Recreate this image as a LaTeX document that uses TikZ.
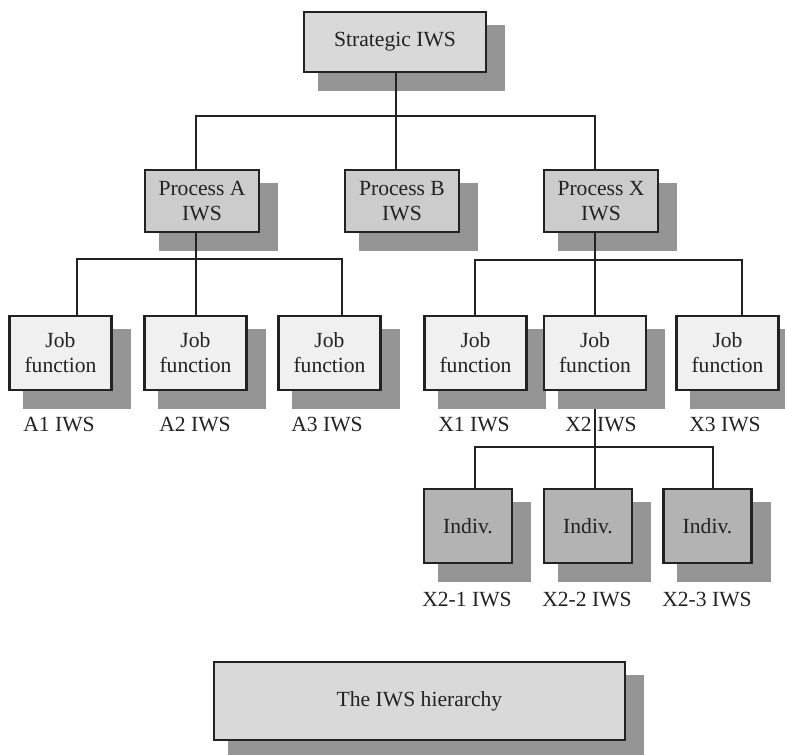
\documentclass[tikz,border=0pt]{standalone}
\usepackage{fontspec}
\setmainfont{Liberation Serif}
\pgfdeclarelayer{under}
\pgfdeclarelayer{shade}
\pgfdeclarelayer{wires}
\pgfsetlayers{under,shade,wires,main}
\definecolor{ink}{HTML}{222222}
\definecolor{shadowgray}{HTML}{959595}
\definecolor{fillstrat}{HTML}{D9D9D9}
\definecolor{fillproc}{HTML}{CCCCCC}
\definecolor{filljob}{HTML}{F0F0F0}
\definecolor{fillind}{HTML}{B3B3B3}
\begin{document}
\begin{tikzpicture}[x=1pt,y=-1pt,
  txt/.style={text=ink, font=\fontsize{21.6}{25}\selectfont},
  box/.style={txt, draw=ink, line width=2.2pt, align=center, inner sep=0pt},
  stratbox/.style={box, fill=fillstrat, minimum width=182pt, minimum height=60pt},
  procbox/.style={box, fill=fillproc, minimum width=114pt, minimum height=62pt},
  jobbox/.style={box, fill=filljob, minimum width=102pt, minimum height=74pt},
  indbox/.style={box, fill=fillind, minimum width=88pt, minimum height=74pt},
  lbl/.style={txt, inner sep=0pt},
  conn/.style={draw=ink, line width=1.6pt}]
\useasboundingbox (0,0) rectangle (785,755);

% boxes
\node[stratbox] (strat) at (395,42) {Strategic IWS};
\node[procbox] (pA) at (202,201) {Process A\\IWS};
\node[procbox] (pB) at (402,201) {Process B\\IWS};
\node[procbox] (pX) at (601,201) {Process X\\IWS};

\node[jobbox] (a1) at (60.5,353) {Job\\function};
\node[jobbox] (a2) at (195.5,353) {Job\\function};
\node[jobbox] (a3) at (329.5,353) {Job\\function};
\node[jobbox] (x1) at (475.5,353) {Job\\function};
\node[jobbox] (x2) at (595,353) {Job\\function};
\node[jobbox] (x3) at (727.5,353) {Job\\function};

\node[indbox] (i1) at (468,526) {Indiv.};
\node[indbox] (i2) at (588,526) {Indiv.};
\node[indbox] (i3) at (707.5,526) {Indiv.};

\node[box, fill=fillstrat, minimum width=411pt, minimum height=78pt] (title) at (419.5,701) {The IWS hierarchy};

% captions under the job and individual boxes
\node[lbl] (la1) at (59,425) {A1 IWS};
\node[lbl] (la2) at (195,425) {A2 IWS};
\node[lbl] (la3) at (327,425) {A3 IWS};
\node[lbl] (lx1) at (474,425) {X1 IWS};
\node[lbl] (lx2) at (601,425) {X2 IWS};
\node[lbl] (lx3) at (725,425) {X3 IWS};
\node[lbl] (li1) at (467,600) {X2-1 IWS};
\node[lbl] (li2) at (587,600) {X2-2 IWS};
\node[lbl] (li3) at (707,600) {X2-3 IWS};

% drop shadows
\begin{pgfonlayer}{shade}
\foreach \n in {strat,pA,pB,pX,a1,a2,a3,x1,x2,x3,i1,i2,i3,title}
  \fill[shadowgray] ([shift={(15,14)}]\n.north west) rectangle ([shift={(18,18)}]\n.south east);
\end{pgfonlayer}

% bus junctions
\coordinate (tb) at (396,116);
\coordinate (ab) at (196,259);
\coordinate (xb) at (595,260);
\coordinate (ib) at (595,447);

% connectors
\begin{pgfonlayer}{wires}
\draw[conn] (strat.south -| tb) -- (tb);
\draw[conn] (pA.north -| ab) |- (tb) -| (pX.north -| xb);
\draw[conn] (tb) -- (pB.north -| tb);

\draw[conn] (pA.south -| ab) -- (ab);
\draw[conn] (a1.north -| 77,0) |- (ab) -| (a3.north -| 342,0);
\draw[conn] (ab) -- (a2.north -| ab);

\draw[conn] (pX.south -| xb) -- (xb);
\draw[conn] (x1.north -| 475,0) |- (xb) -| (x3.north -| 742,0);
\draw[conn] (xb) -- (x2.north -| xb);
\end{pgfonlayer}

\begin{pgfonlayer}{under}
\draw[conn] (x2.south) -- (ib);
\end{pgfonlayer}
\begin{pgfonlayer}{wires}
\draw[conn] (i1.north -| 475,0) |- (ib) -| (i3.north -| 713,0);
\draw[conn] (ib) -- (i2.north -| ib);
\end{pgfonlayer}
\end{tikzpicture}
\end{document}
